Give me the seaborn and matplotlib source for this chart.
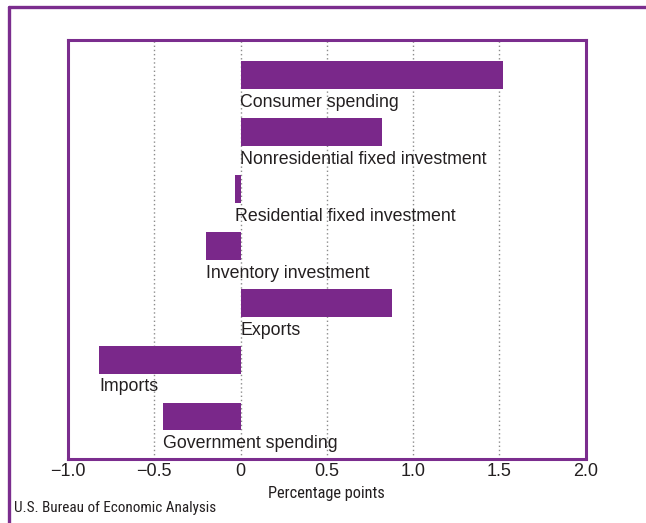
import matplotlib
matplotlib.use("Agg")
import matplotlib.pyplot as plt
from matplotlib import font_manager as fm
from matplotlib.lines import Line2D
import seaborn as sns
import pandas as pd

# Contributions to real GDP growth, percentage points
categories = [
    "Consumer spending",
    "Nonresidential fixed investment",
    "Residential fixed investment",
    "Inventory investment",
    "Exports",
    "Imports",
    "Government spending",
]
values = [1.52, 0.82, -0.03, -0.20, 0.88, -0.82, -0.45]

x_ticks = [-1.0, -0.5, 0.0, 0.5, 1.0, 1.5, 2.0]
x_tick_labels = ["\u22121.0", "\u22120.5", "0", "0.5", "1.0", "1.5", "2.0"]

PURPLE = "#7A288A"
FRAME = "#7B2D8E"
TEXT = "#231F20"

sns.set_theme(style="white")
plt.rcParams["font.family"] = ["Liberation Sans", "DejaVu Sans"]

names = {f.name for f in fm.fontManager.ttflist}

# Pick a narrow face for the axis title and the source line
narrow = dict(family="Liberation Sans")
for cand in ["Liberation Sans Narrow", "Roboto Condensed", "Open Sans Condensed"]:
    if cand in names:
        narrow = dict(family=cand)
        break

df = pd.DataFrame({"category": categories, "value": values})

fig = plt.figure(figsize=(6.46, 5.23), dpi=100)
ax = fig.add_axes([68 / 646, 1 - 459 / 523, 517.5 / 646, 419 / 523])

sns.barplot(data=df, x="value", y="category", orient="h", color=PURPLE,
            saturation=1, width=0.49, linewidth=0, ax=ax, zorder=3)

# Category labels sit under each bar, starting at the bar's left end
for i, (name, v) in enumerate(zip(categories, values)):
    ax.text(min(v, 0.0), i + 0.56, name, ha="left", va="baseline",
            fontsize=12.8, color=TEXT, zorder=4)

ax.set_xlim(-1.0, 2.0)
ax.set_ylim(6.747, -0.615)
ax.set_yticks([])
ax.set_ylabel("")
ax.set_xticks(x_ticks)
ax.set_xticklabels(x_tick_labels, fontsize=13, color=TEXT)
ax.tick_params(axis="x", length=0, pad=3)

ax.grid(axis="x", linestyle=(0, (1, 2)), color="#8c8c8c", linewidth=1)
ax.grid(axis="y", visible=False)
ax.set_axisbelow(True)

for sp in ax.spines.values():
    sp.set_visible(True)
    sp.set_color(FRAME)
    sp.set_linewidth(2.2)

ax.set_xlabel("Percentage points", fontsize=11.8, color=TEXT, labelpad=4,
              **narrow)

fig.text(14 / 646, 1 - 508 / 523, "U.S. Bureau of Economic Analysis",
         fontsize=10.9, color=TEXT, va="center", ha="left", **narrow)

# Outer frame: top rule and left rule
fig.add_artist(Line2D([8.5 / 646, 1.0], [1 - 7 / 523, 1 - 7 / 523],
                      color=FRAME, linewidth=2.4, transform=fig.transFigure))
fig.add_artist(Line2D([8.5 / 646, 8.5 / 646], [0.0, 1 - 7 / 523],
                      color=FRAME, linewidth=2.4, transform=fig.transFigure))

fig.savefig("out.png", dpi=100)
